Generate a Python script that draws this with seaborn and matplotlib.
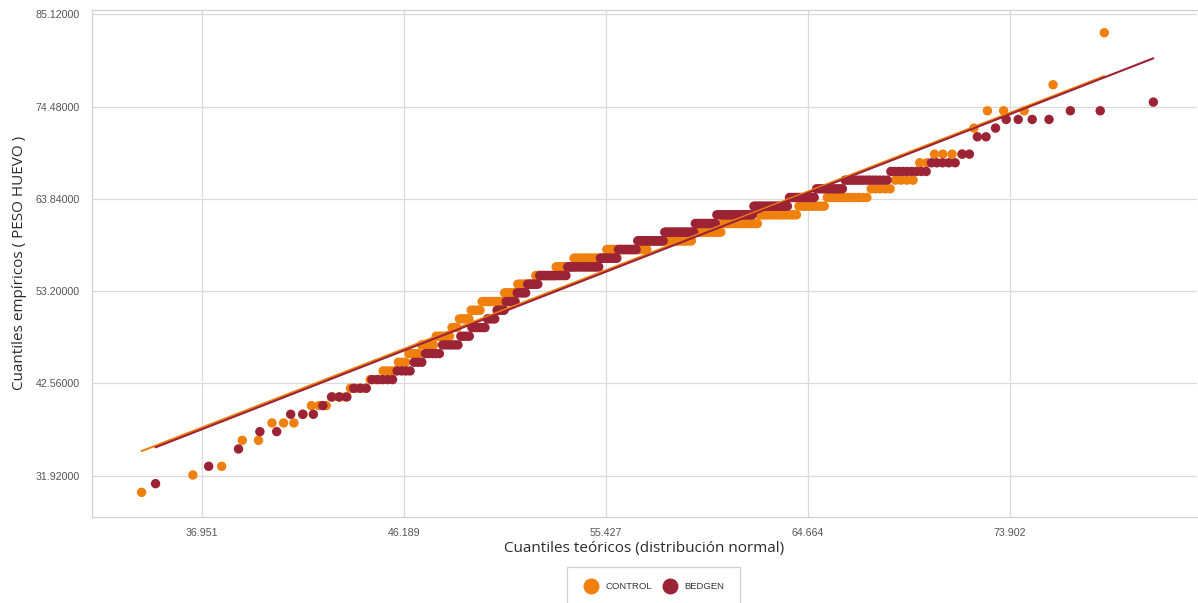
import numpy as np
import pandas as pd
import matplotlib
matplotlib.use("Agg")
import matplotlib.pyplot as plt
import seaborn as sns
from statistics import NormalDist
from matplotlib.lines import Line2D
from matplotlib.ticker import FixedLocator, AutoMinorLocator, NullFormatter

# ---------------- data ----------------
series_names = ["CONTROL", "BEDGEN"]

# empirical egg weights (sorted values) with their repeat counts
control_values = [30, 32, 33, 36, 38, 39, 40, 41, 42, 43, 44, 45, 46, 47, 48, 49, 50, 51,
                  52, 53, 54, 55, 56, 57, 58, 59, 60, 61, 62, 63, 64, 65, 66, 68, 69,
                  72, 74, 77, 83]
control_counts = [1, 1, 1, 2, 3, 1, 3, 3, 4, 3, 4, 3, 4, 5, 6, 3, 5, 5,
                  11, 7, 10, 12, 11, 21, 27, 28, 17, 19, 17, 10, 12, 5, 4, 2, 4,
                  1, 3, 1, 1]

bedgen_values = [31, 33, 35, 37, 39, 40, 41, 42, 43, 44, 45, 46, 47, 48, 49, 50, 51,
                 52, 53, 54, 55, 56, 57, 58, 59, 60, 61, 62, 63, 64, 65, 66, 67, 68,
                 69, 71, 72, 73, 74, 75]
bedgen_counts = [1, 1, 1, 2, 3, 1, 3, 3, 5, 4, 3, 5, 6, 4, 6, 4, 4,
                 5, 5, 6, 15, 19, 11, 12, 17, 19, 13, 21, 18, 12, 11, 14, 9, 5,
                 2, 2, 1, 4, 2, 1]

# fitted normal (mean, sd) used for the theoretical axis of each group
control_theo = (56.2, 7.84)
bedgen_theo = (57.64, 8.126)
# normal reference line (mean, sd) of each group
control_line = (56.375, 7.70)
bedgen_line = (57.62, 7.99)

x_tick_labels = ["36.951", "46.189", "55.427", "64.664", "73.902"]
y_tick_labels = ["31.92000", "42.56000", "53.20000", "63.84000", "74.48000", "85.12000"]

colors = {"CONTROL": "#EF800E", "BEDGEN": "#9B2335"}


def qq_frame(name, values, counts, theo, fit):
    y = np.repeat(np.array(values, dtype=float), counts)
    n = len(y)
    nd = NormalDist()
    z = np.array([nd.inv_cdf((i - 0.3) / (n + 0.4)) for i in range(1, n + 1)])
    x = theo[0] + theo[1] * z
    pts = pd.DataFrame({"x": x, "y": y, "grupo": name})
    zl = z[[0, -1]]
    line = pd.DataFrame({"x": theo[0] + theo[1] * zl,
                         "y": fit[0] + fit[1] * zl,
                         "grupo": name})
    return pts, line


p1, l1 = qq_frame("CONTROL", control_values, control_counts, control_theo, control_line)
p2, l2 = qq_frame("BEDGEN", bedgen_values, bedgen_counts, bedgen_theo, bedgen_line)
points = pd.concat([p1, p2], ignore_index=True)
lines = pd.concat([l1, l2], ignore_index=True)

# ---------------- figure ----------------
sns.set_style("white")
plt.rcParams["font.family"] = ["Liberation Sans", "DejaVu Sans"]

W, H = 1198, 603
fig = plt.figure(figsize=(W / 100, H / 100), dpi=100)
ax_l, ax_r, ax_t, ax_b = 91.5, 1197.0, 10.0, 516.7
ax = fig.add_axes([ax_l / W, 1 - ax_b / H, (ax_r - ax_l) / W, (ax_b - ax_t) / H])

sns.scatterplot(data=points, x="x", y="y", hue="grupo", hue_order=series_names,
                palette=colors, s=46, linewidth=0, alpha=1, legend=False, ax=ax, zorder=3)
sns.lineplot(data=lines, x="x", y="y", hue="grupo", hue_order=series_names,
             palette=colors, linewidth=1.5, legend=False, ax=ax, sort=False,
             estimator=None, zorder=4)

xt = [float(t) for t in x_tick_labels]
yt = [float(t) for t in y_tick_labels]
ax.set_xlim(31.898, 82.45)
ax.set_ylim(27.19, 85.62)
ax.xaxis.set_major_locator(FixedLocator(xt))
ax.yaxis.set_major_locator(FixedLocator(yt))
ax.set_xticklabels(x_tick_labels)
ax.set_yticklabels(y_tick_labels)
ax.xaxis.set_minor_locator(AutoMinorLocator(5))
ax.yaxis.set_minor_locator(AutoMinorLocator(3))
ax.xaxis.set_minor_formatter(NullFormatter())
ax.yaxis.set_minor_formatter(NullFormatter())

grid_c = "#dadada"
ax.grid(True, which="major", color=grid_c, linewidth=0.9, zorder=0)
ax.set_axisbelow(True)
for side in ["left", "bottom", "top"]:
    ax.spines[side].set_color("#d0d0d0")
    ax.spines[side].set_linewidth(0.9)
ax.spines["right"].set_visible(False)

ax.tick_params(axis="both", which="major", length=4, width=0.9, color="#c8c8c8",
               labelsize=7.7, labelcolor="#555555", pad=4.5)
ax.tick_params(axis="both", which="minor", length=2.5, width=0.8, color="#c8c8c8")
ax.tick_params(axis="x", which="major", pad=4)

label_font = dict(family=["Open Sans", "DejaVu Sans"], size=11, color="#2b2b2b")
ax.set_xlabel("Cuantiles teóricos (distribución normal)", **label_font)
ax.set_ylabel("Cuantiles empíricos ( PESO HUEVO )", **label_font)
ax.xaxis.set_label_coords(0.5, -(541 - ax_b) / (ax_b - ax_t))
ax.xaxis.label.set_va("top")
ax.yaxis.set_label_coords(-(91.5 - 27) / (ax_r - ax_l), 0.5)

handles = [Line2D([0], [0], marker="o", linestyle="none", markersize=11.5,
                  markerfacecolor=colors[n], markeredgewidth=0, label=n)
           for n in series_names]
leg = fig.legend(handles=handles, loc="upper center", ncol=2,
                 bbox_to_anchor=(653.5 / W, 1 - 567 / H),
                 frameon=True, fancybox=False, framealpha=1, edgecolor="#d0d0d0",
                 prop={"family": ["Liberation Sans", "DejaVu Sans"], "size": 6.8},
                 handlelength=1.7, handletextpad=0.7, columnspacing=1.06,
                 borderpad=1.6, borderaxespad=0)
leg.get_frame().set_linewidth(0.9)
for t in leg.get_texts():
    t.set_color("#333333")

fig.savefig("out.png", dpi=100)
